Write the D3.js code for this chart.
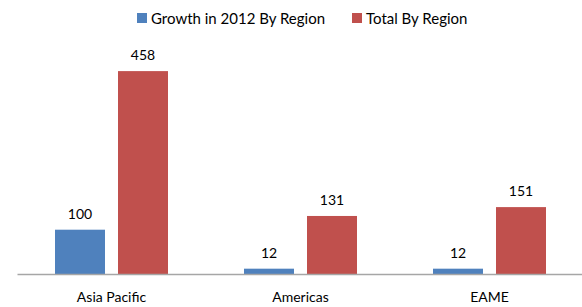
<!DOCTYPE html>
<html lang="en">
    <head>
        <meta charset="utf-8">
        <title>Growth by region</title>
        <script type="text/javascript" src="https://cdn.jsdelivr.net/npm/d3@7"></script>
        <style type="text/css">
            body { margin: 0; background: #fff; }
            text { font-family: Lato, "Open Sans", sans-serif; fill: #000; }
        </style>
    </head>
    <body>
        <script type="text/javascript">
            //Chart data
            var regions = ["Asia Pacific", "Americas", "EAME"];
            var seriesNames = ["Growth in 2012 By Region", "Total By Region"];
            var growth = [100, 12, 12];
            var total = [458, 131, 151];
            var colors = ["#4F81BD", "#C0504D"];

            var w = 582;
            var h = 307;
            var baseY = 274;

            var svg = d3.select("body")
                        .append("svg")
                        .attr("width", w)
                        .attr("height", h);

            //Scales
            var xScale = d3.scaleBand()
                            .domain(regions)
                            .range([17, 584]);

            var yScale = d3.scaleLinear()
                            .domain([0, 500])
                            .range([baseY, baseY - 221.5]);

            var barW = 50;
            var gap = 13;
            var rows = regions.map(function(r, i) {
                return { region: r, values: [growth[i], total[i]] };
            });

            var groups = svg.selectAll("g.group")
                .data(rows)
                .enter()
                .append("g")
                .attr("class", "group")
                .attr("transform", function(d) {
                    var c = xScale(d.region) + xScale.bandwidth() / 2;
                    return "translate(" + (c - barW - gap / 2) + ",0)";
                });

            groups.selectAll("rect")
                .data(function(d) { return d.values; })
                .enter()
                .append("rect")
                .attr("x", function(d, i) { return i * (barW + gap); })
                .attr("y", function(d) { return yScale(d); })
                .attr("width", barW)
                .attr("height", function(d) { return baseY - yScale(d); })
                .attr("fill", function(d, i) { return colors[i]; });

            //Value labels
            groups.selectAll("text")
                .data(function(d) { return d.values; })
                .enter()
                .append("text")
                .attr("x", function(d, i) { return i * (barW + gap) + barW / 2; })
                .attr("y", function(d) { return yScale(d) - 11; })
                .attr("text-anchor", "middle")
                .attr("font-size", "14px")
                .text(function(d) { return d; });

            //x axis
            var xAxis = d3.axisBottom(xScale).tickSize(0).tickPadding(18);
            var axisG = svg.append("g")
                .attr("transform", "translate(0," + baseY + ")")
                .call(xAxis);
            axisG.select(".domain").attr("stroke", "#a6a6a6").attr("stroke-width", 1.5);
            axisG.selectAll("text")
                .attr("font-size", "14px")
                .attr("font-family", "Lato, 'Open Sans', sans-serif")
                .attr("fill", "#000");

            //Legend
            var legendX = [137, 352];
            var legend = svg.selectAll("g.legend")
                .data(seriesNames)
                .enter()
                .append("g")
                .attr("class", "legend")
                .attr("transform", function(d, i) { return "translate(" + legendX[i] + ",13)"; });
            legend.append("rect")
                .attr("width", 10)
                .attr("height", 10)
                .attr("fill", function(d, i) { return colors[i]; });
            legend.append("text")
                .attr("x", 14)
                .attr("y", 10.5)
                .attr("font-size", "15px")
                .text(function(d) { return d; });
        </script>
    </body>
</html>
